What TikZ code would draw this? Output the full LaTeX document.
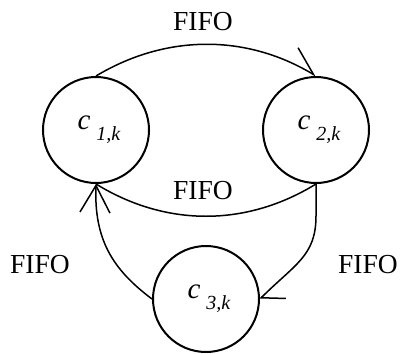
\documentclass[tikz,border=0pt]{standalone}
\usepackage{fontspec}
\setmainfont{Liberation Serif}
\usetikzlibrary{arrows.meta}
\tikzset{
  state/.style={circle,draw,line width=2pt,minimum size=106pt,inner sep=0pt},
  edge/.style={line width=1.5pt},
  fulltip/.style={-{Straight Barb[length=27pt,width=30pt,line width=1.5pt]}},
  halftip/.style={-{Straight Barb[left,length=27pt,width=30pt,line width=1.5pt]}},
  widetip/.style={-{Straight Barb[left,length=17pt,width=36pt,line width=1.5pt]}},
  lbl/.style={anchor=base,inner sep=0pt,font=\fontsize{27.5}{30}\selectfont}
}
\newcommand{\cname}[1]{{\fontsize{29}{30}\selectfont\itshape c}\hspace{6pt}\raisebox{-11pt}{\fontsize{20}{22}\selectfont\itshape #1}}
\begin{document}
\begin{tikzpicture}[x=1pt,y=-1pt]
\useasboundingbox (0,0) rectangle (400,354);
\node[state] (c1) at (96,130) {\hspace{6pt}\cname{1,k}};
\node[state] (c2) at (316,130) {\hspace{6pt}\cname{2,k}};
\node[state] (c3) at (206,299) {\hspace{6pt}\cname{3,k}};
\node[lbl] (f1) at (203,30) {FIFO};
\node[lbl] (f2) at (203,199) {FIFO};
\node[lbl] (f3) at (40,273) {FIFO};
\node[lbl] (f4) at (368,273) {FIFO};
\draw[edge,halftip] (c1.north) .. controls +(70,-42) and +(-70,-42) .. (c2.north);
\draw[edge] (c2.south) .. controls +(-70,43) and +(70,43) .. (c1.south);
\draw[edge,fulltip] (c3.west) .. controls +(-40,-30) and +(-2,55) .. (c1.south);
\draw[edge,widetip] (c2.south) -- ++(0,32) .. controls +(0,40) and +(35,-35) .. (c3.east);
\end{tikzpicture}
\end{document}
